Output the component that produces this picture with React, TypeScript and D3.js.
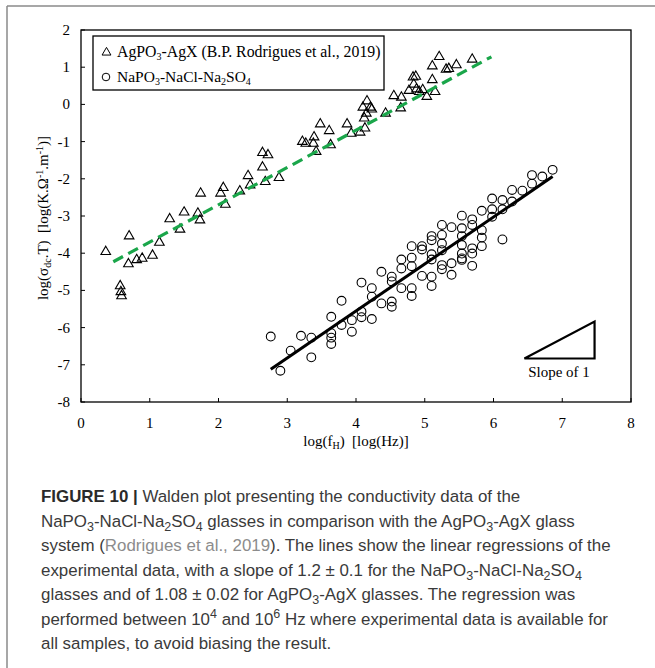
import React from "react";
import * as d3 from "d3";

// AgPO3-AgX (triangles)
const agX = [0.36,0.70,0.69,0.81,0.89,1.04,0.57,0.58,0.59,1.14,1.29,1.44,1.50,1.70,1.73,1.74,2.03,2.07,2.10,2.31,2.43,2.46,2.64,2.68,2.88,2.64,2.72,3.22,3.27,3.39,3.42,3.38,3.48,3.61,3.63,3.87,3.93,4.06,4.13,4.12,4.15,4.10,4.16,4.21,4.23,4.43,4.55,4.66,4.65,4.77,4.83,4.87,4.84,4.88,4.92,4.97,5.03,5.11,5.15,5.11,5.21,5.31,5.35,5.46,5.69];
const agY = [-3.96,-3.54,-4.29,-4.18,-4.14,-4.06,-4.88,-5.04,-5.15,-3.71,-3.08,-3.36,-2.90,-2.93,-3.11,-2.39,-2.39,-2.24,-2.69,-2.33,-1.92,-2.17,-1.69,-2.08,-1.97,-1.30,-1.36,-1.00,-1.05,-0.88,-1.27,-1.05,-0.53,-0.71,-1.09,-0.53,-0.78,-0.75,-0.64,-0.37,-0.24,-0.08,0.09,-0.08,-0.13,-0.24,0.23,0.19,-0.10,0.37,0.73,0.75,0.54,0.41,0.34,0.39,0.21,0.66,0.34,1.03,1.28,0.94,0.96,1.06,1.21];

// NaPO3-NaCl-Na2SO4 (circles)
const naX = [2.76,2.90,3.05,3.20,3.35,3.35,3.64,3.64,3.64,3.64,3.79,3.79,3.94,3.94,4.08,4.08,4.08,4.23,4.23,4.23,4.37,4.37,4.52,4.52,4.52,4.52,4.66,4.66,4.66,4.81,4.81,4.81,4.81,4.81,4.96,4.96,4.96,5.10,5.10,5.10,5.10,5.10,5.10,5.25,5.25,5.25,5.25,5.25,5.25,5.39,5.39,5.39,5.54,5.54,5.54,5.54,5.54,5.54,5.54,5.69,5.69,5.69,5.69,5.69,5.83,5.83,5.83,5.83,5.98,5.98,5.98,6.13,6.13,6.13,6.27,6.27,6.42,6.56,6.56,6.71,6.86];
const naY = [-6.24,-7.16,-6.62,-6.22,-6.27,-6.80,-5.71,-6.15,-6.27,-6.44,-5.28,-5.93,-5.80,-6.11,-4.79,-5.57,-5.72,-4.94,-5.17,-5.77,-4.50,-5.35,-4.63,-4.76,-5.30,-5.44,-4.17,-4.41,-4.94,-3.81,-4.12,-4.35,-4.94,-5.15,-3.81,-3.90,-4.61,-3.54,-3.65,-4.03,-4.17,-4.63,-4.88,-3.24,-3.51,-3.74,-3.92,-4.32,-4.43,-3.30,-4.27,-4.58,-2.99,-3.33,-3.54,-3.78,-4.01,-4.14,-4.18,-3.09,-3.24,-3.87,-4.01,-4.34,-2.86,-3.38,-3.58,-3.81,-2.53,-2.82,-3.02,-2.57,-2.82,-3.63,-2.30,-2.61,-2.32,-1.90,-2.13,-1.94,-1.76];

// regression lines (endpoints)
const agFitX = [0.47, 5.97];
const agFitY = [-4.23, 1.28];
const naFitX = [2.76, 6.86];
const naFitY = [-7.12, -1.94];

// slope triangle
const slopeX = [6.45, 7.47, 7.47];
const slopeY = [-6.83, -6.83, -5.84];

const xTicks = [0, 1, 2, 3, 4, 5, 6, 7, 8];
const yTicks = [-8, -7, -6, -5, -4, -3, -2, -1, 0, 1, 2];

const serif = "'Liberation Serif', 'DejaVu Serif', serif";
const sans = "'Liberation Sans', Arial, sans-serif";

export default function App() {
  const L = 81, R = 631, T = 30, B = 402;
  const x = d3.scaleLinear().domain([0, 8]).range([L, R]);
  const y = d3.scaleLinear().domain([-8, 2]).range([B, T]);
  const tri = d3.symbol(d3.symbolTriangle, 40)();
  const line = d3.line<[number, number]>().x((d) => x(d[0])).y((d) => y(d[1]));
  const agFit = line(agFitX.map((v, i) => [v, agFitY[i]]));
  const naFit = line(naFitX.map((v, i) => [v, naFitY[i]]));
  const slope = line(slopeX.map((v, i) => [v, slopeY[i]])) + "Z";

  const capLines = 502;
  const lh = 24.5;
  const txt = "#3a3a3a";
  const sub = 12.5;

  return (
    <svg width={655} height={668} style={{ position: "absolute", left: 0, top: 0 }}>
      <rect x={0} y={0} width={655} height={668} fill="#fff" />
      {/* figure frame */}
      <line x1={7} y1={6} x2={655} y2={6} stroke="#8a8a8a" strokeWidth={1.5} />
      <line x1={7} y1={6} x2={7} y2={668} stroke="#8a8a8a" strokeWidth={1.5} />

      {/* plot frame */}
      <rect x={L} y={T} width={R - L} height={B - T} fill="none" stroke="#000" strokeWidth={1.3} />

      {/* ticks */}
      {xTicks.map((t) => (
        <g key={"xt" + t}>
          <line x1={x(t)} x2={x(t)} y1={B} y2={B - 4} stroke="#000" strokeWidth={1} />
          <text x={x(t)} y={428} textAnchor="middle" fontFamily={serif} fontSize={15} fill="#000">{t}</text>
        </g>
      ))}
      {yTicks.map((t) => (
        <g key={"yt" + t}>
          <line x1={L} x2={L + 4} y1={y(t)} y2={y(t)} stroke="#000" strokeWidth={1} />
          <text x={70} y={y(t) + 5} textAnchor="end" fontFamily={serif} fontSize={15} fill="#000">{t}</text>
        </g>
      ))}

      {/* axis titles */}
      <text x={356} y={446} textAnchor="middle" fontFamily={serif} fontSize={15} fill="#000" style={{ whiteSpace: "pre" }}>
        log(f<tspan fontSize={10} dy={3}>H</tspan><tspan dy={-3}>)  [log(Hz)]</tspan>
      </text>
      <text transform="translate(48,218) rotate(-90)" textAnchor="middle" fontFamily={serif} fontSize={15} fill="#000" style={{ whiteSpace: "pre" }}>
        log(σ<tspan fontSize={10} dy={3}>dc</tspan><tspan dy={-3}>.T)  [log(K.Ω</tspan><tspan fontSize={10} dy={-5}>-1</tspan><tspan dy={5}>.m</tspan><tspan fontSize={10} dy={-5}>-1</tspan><tspan dy={5}>)]</tspan>
      </text>

      {/* markers */}
      {agX.map((v, i) => (
        <path key={"a" + i} d={tri} transform={`translate(${x(v)},${y(agY[i])})`} fill="none" stroke="#000" strokeWidth={1.1} />
      ))}
      {naX.map((v, i) => (
        <circle key={"n" + i} cx={x(v)} cy={y(naY[i])} r={4.4} fill="none" stroke="#000" strokeWidth={1.1} />
      ))}

      {/* fits */}
      <path d={agFit ?? ""} stroke="#1aa64a" strokeWidth={3.2} strokeDasharray="11 6" fill="none" />
      <path d={naFit ?? ""} stroke="#000" strokeWidth={3} fill="none" />

      {/* slope triangle */}
      <path d={slope} fill="none" stroke="#000" strokeWidth={2.2} strokeLinejoin="miter" />
      <text x={559} y={377} textAnchor="middle" fontFamily={serif} fontSize={15} fill="#000">Slope of 1</text>

      {/* legend */}
      <rect x={93} y={36} width={291} height={54} fill="#fff" stroke="#000" strokeWidth={1.3} />
      <path d={d3.symbol(d3.symbolTriangle, 34)() ?? ""} transform="translate(106.5,52.5)" fill="none" stroke="#000" strokeWidth={1} />
      <text x={117} y={57} fontFamily={serif} fontSize={15.8} fill="#000">
        AgPO<tspan fontSize={10} dy={3}>3</tspan><tspan dy={-3}>-AgX (B.P. Rodrigues et al., 2019)</tspan>
      </text>
      <circle cx={106} cy={77} r={3.8} fill="none" stroke="#000" strokeWidth={1} />
      <text x={117} y={82} fontFamily={serif} fontSize={15.5} fill="#000">
        NaPO<tspan fontSize={10} dy={3}>3</tspan><tspan dy={-3}>-NaCl-Na</tspan><tspan fontSize={10} dy={3}>2</tspan><tspan dy={-3}>SO</tspan><tspan fontSize={10} dy={3}>4</tspan>
      </text>

      {/* caption */}
      <g fontFamily={sans} fontSize={16.9} fill={txt}>
        <text x={41} y={capLines}>
          <tspan fontWeight="bold" fill="#2a2a2a">FIGURE 10 |</tspan> Walden plot presenting the conductivity data of the
        </text>
        <text x={41} y={capLines + lh}>
          NaPO<tspan fontSize={sub} dy={4}>3</tspan><tspan dy={-4}>-NaCl-Na</tspan><tspan fontSize={sub} dy={4}>2</tspan><tspan dy={-4}>SO</tspan><tspan fontSize={sub} dy={4}>4</tspan><tspan dy={-4}> glasses in comparison with the AgPO</tspan><tspan fontSize={sub} dy={4}>3</tspan><tspan dy={-4}>-AgX glass</tspan>
        </text>
        <text x={41} y={capLines + 2 * lh}>
          system (<tspan fill="#8c8c8c">Rodrigues et al., 2019</tspan>). The lines show the linear regressions of the
        </text>
        <text x={41} y={capLines + 3 * lh}>
          experimental data, with a slope of 1.2 ± 0.1 for the NaPO<tspan fontSize={sub} dy={4}>3</tspan><tspan dy={-4}>-NaCl-Na</tspan><tspan fontSize={sub} dy={4}>2</tspan><tspan dy={-4}>SO</tspan><tspan fontSize={sub} dy={4}>4</tspan>
        </text>
        <text x={41} y={capLines + 4 * lh}>
          glasses and of 1.08 ± 0.02 for AgPO<tspan fontSize={sub} dy={4}>3</tspan><tspan dy={-4}>-AgX glasses. The regression was</tspan>
        </text>
        <text x={41} y={capLines + 5 * lh}>
          performed between 10<tspan fontSize={sub} dy={-7}>4</tspan><tspan dy={7}> and 10</tspan><tspan fontSize={sub} dy={-7}>6</tspan><tspan dy={7}> Hz where experimental data is available for</tspan>
        </text>
        <text x={41} y={capLines + 6 * lh}>all samples, to avoid biasing the result.</text>
      </g>
    </svg>
  );
}
